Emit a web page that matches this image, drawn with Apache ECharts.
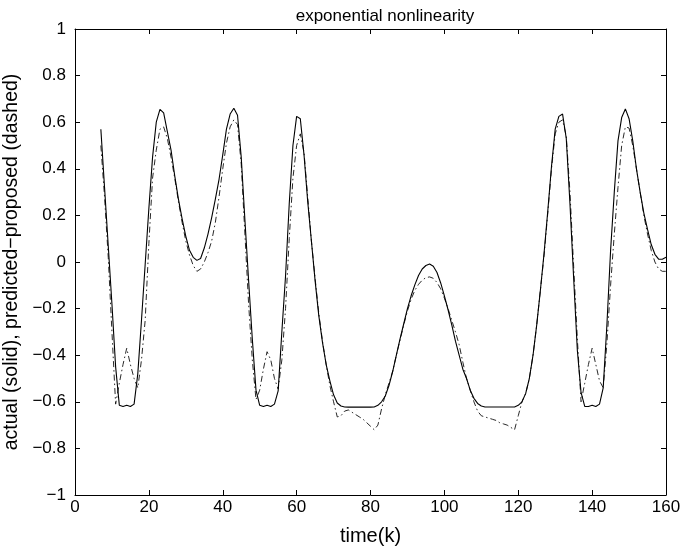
<!DOCTYPE html>
<html>
<head>
<meta charset="utf-8">
<script src="https://cdn.jsdelivr.net/npm/echarts@6/dist/echarts.min.js"></script>
<style>
html,body{margin:0;padding:0;background:#fff;}
#chart{width:683px;height:549px;}
</style>
</head>
<body>
<div id="chart"></div>
<script>
var titleText = 'exponential nonlinearity';
var xName = 'time(k)';
var yName = 'actual (solid), predicted\u2212proposed (dashed)';

var time = [7,8,9,10,11,12,13,14,15,16,17,18,19,20,21,22,23,24,25,26,27,28,29,30,
31,32,33,34,35,36,37,38,39,40,41,42,43,44,45,46,47,48,49,50,51,52,53,54,55,56,57,58,59,60,
61,62,63,64,65,66,67,68,69,70,71,72,73,74,75,76,77,78,79,80,81,82,83,84,85,86,87,88,89,90,
91,92,93,94,95,96,97,98,99,100,101,102,103,104,105,106,107,108,109,110,111,112,113,114,115,116,117,118,119,120,
121,122,123,124,125,126,127,128,129,130,131,132,133,134,135,136,137,138,139,140,141,142,143,144,145,146,147,148,149,150,
151,152,153,154,155,156,157,158,159,160];

var actual = [0.57,0.32,0.07,-0.18,-0.45,-0.615,-0.62,-0.615,-0.62,-0.61,-0.48,-0.25,-0.01,0.23,0.45,0.60,0.655,0.64,0.56,0.48,0.37,0.27,0.185,0.11,
0.05,0.02,0.007,0.015,0.06,0.12,0.19,0.27,0.355,0.46,0.57,0.635,0.66,0.63,0.45,0.18,-0.08,-0.33,-0.55,-0.615,-0.62,-0.615,-0.62,-0.61,-0.553,-0.30,-0.06,0.25,0.50,0.625,
0.615,0.46,0.26,0.09,-0.08,-0.23,-0.345,-0.44,-0.51,-0.57,-0.605,-0.618,-0.622,-0.623,-0.623,-0.623,-0.623,-0.623,-0.623,-0.623,-0.622,-0.615,-0.60,-0.575,-0.53,-0.47,-0.40,-0.33,-0.265,-0.20,
-0.145,-0.098,-0.058,-0.03,-0.015,-0.009,-0.018,-0.045,-0.09,-0.145,-0.205,-0.27,-0.34,-0.40,-0.46,-0.50,-0.55,-0.585,-0.607,-0.618,-0.622,-0.622,-0.622,-0.622,-0.622,-0.622,-0.622,-0.622,-0.622,-0.615,
-0.60,-0.565,-0.50,-0.40,-0.27,-0.12,0.04,0.22,0.41,0.57,0.625,0.635,0.53,0.25,-0.07,-0.38,-0.56,-0.62,-0.62,-0.615,-0.62,-0.61,-0.54,-0.27,0.05,0.30,0.52,0.62,0.657,0.615,
0.52,0.40,0.30,0.21,0.14,0.075,0.033,0.012,0.012,0.02];

var predicted = [0.50,0.28,0.02,-0.30,-0.61,-0.52,-0.44,-0.37,-0.44,-0.50,-0.54,-0.42,-0.25,0.08,0.36,0.48,0.57,0.58,0.53,0.45,0.36,0.26,0.17,0.09,
0.03,-0.015,-0.04,-0.03,0.0,0.04,0.09,0.17,0.28,0.40,0.51,0.58,0.61,0.59,0.42,0.12,-0.18,-0.42,-0.59,-0.55,-0.46,-0.385,-0.42,-0.50,-0.545,-0.42,-0.20,0.10,0.36,0.50,
0.55,0.47,0.28,0.09,-0.07,-0.22,-0.34,-0.44,-0.53,-0.60,-0.665,-0.66,-0.64,-0.635,-0.645,-0.655,-0.665,-0.675,-0.69,-0.705,-0.72,-0.70,-0.63,-0.57,-0.52,-0.47,-0.40,-0.335,-0.27,-0.21,
-0.16,-0.122,-0.096,-0.078,-0.067,-0.064,-0.07,-0.088,-0.115,-0.155,-0.20,-0.25,-0.30,-0.355,-0.43,-0.50,-0.55,-0.60,-0.64,-0.66,-0.665,-0.67,-0.675,-0.68,-0.69,-0.695,-0.70,-0.71,-0.72,-0.66,
-0.60,-0.565,-0.50,-0.40,-0.27,-0.12,0.03,0.21,0.40,0.55,0.60,0.61,0.54,0.30,-0.02,-0.33,-0.60,-0.52,-0.44,-0.37,-0.44,-0.51,-0.54,-0.35,-0.10,0.12,0.32,0.50,0.58,0.575,
0.50,0.40,0.30,0.20,0.12,0.05,0.0,-0.03,-0.04,-0.04];

function pairs(xs, ys){ var out=[]; for(var i=0;i<xs.length;i++){ out.push([xs[i], ys[i]]); } return out; }
function fmt(v){ var s = String(Math.round(v*10)/10); return s.replace('-', '\u2212'); }

var FONT = 'Liberation Sans, Arial, Helvetica, sans-serif';
var axisLine = {show:true, onZero:false, lineStyle:{color:'#000', width:1}};
var tickIn = {show:true, inside:true, length:5, lineStyle:{color:'#000', width:1}};

var chart = echarts.init(document.getElementById('chart'), null, {renderer:'canvas'});
chart.setOption({
  animation:false,
  backgroundColor:'#fff',
  title:{text:titleText, left:380, top:3, textAlign:'center',
    textStyle:{fontFamily:FONT, fontSize:17, fontWeight:'normal', color:'#000'}},
  grid:{left:75, right:17, top:29, bottom:54, containLabel:false, outerBoundsMode:'none'},
  xAxis:[
    {type:'value', position:'bottom', min:0, max:160, interval:20,
     axisLine:axisLine, axisTick:tickIn, splitLine:{show:false},
     axisLabel:{fontFamily:FONT, fontSize:17, color:'#000', margin:4, formatter:function(v){return fmt(v);}},
     name:xName, nameLocation:'middle', nameGap:31,
     nameTextStyle:{fontFamily:FONT, fontSize:20, color:'#000'}},
    {type:'value', position:'top', min:0, max:160, interval:20,
     axisLine:axisLine, axisTick:tickIn, splitLine:{show:false}, axisLabel:{show:false}}
  ],
  yAxis:[
    {type:'value', position:'left', min:-1, max:1, interval:0.2,
     axisLine:axisLine, axisTick:tickIn, splitLine:{show:false},
     axisLabel:{fontFamily:FONT, fontSize:17, color:'#000', margin:9, formatter:function(v){return fmt(v);}},
     name:yName, nameLocation:'middle', nameGap:47, nameRotate:90,
     nameTextStyle:{fontFamily:FONT, fontSize:19.5, color:'#000'}},
    {type:'value', position:'right', min:-1, max:1, interval:0.2,
     axisLine:axisLine, axisTick:tickIn, splitLine:{show:false}, axisLabel:{show:false}}
  ],
  series:[
    {type:'line', name:'actual', xAxisIndex:0, yAxisIndex:0, data:pairs(time, actual),
     showSymbol:false, symbol:'none', lineStyle:{color:'#000', width:1.1, type:'solid'}, z:3},
    {type:'line', name:'predicted', xAxisIndex:0, yAxisIndex:0, data:pairs(time, predicted),
     showSymbol:false, symbol:'none', lineStyle:{color:'#111', width:0.9, type:[6,3,1.5,3]}, z:2}
  ]
});
</script>
</body>
</html>
